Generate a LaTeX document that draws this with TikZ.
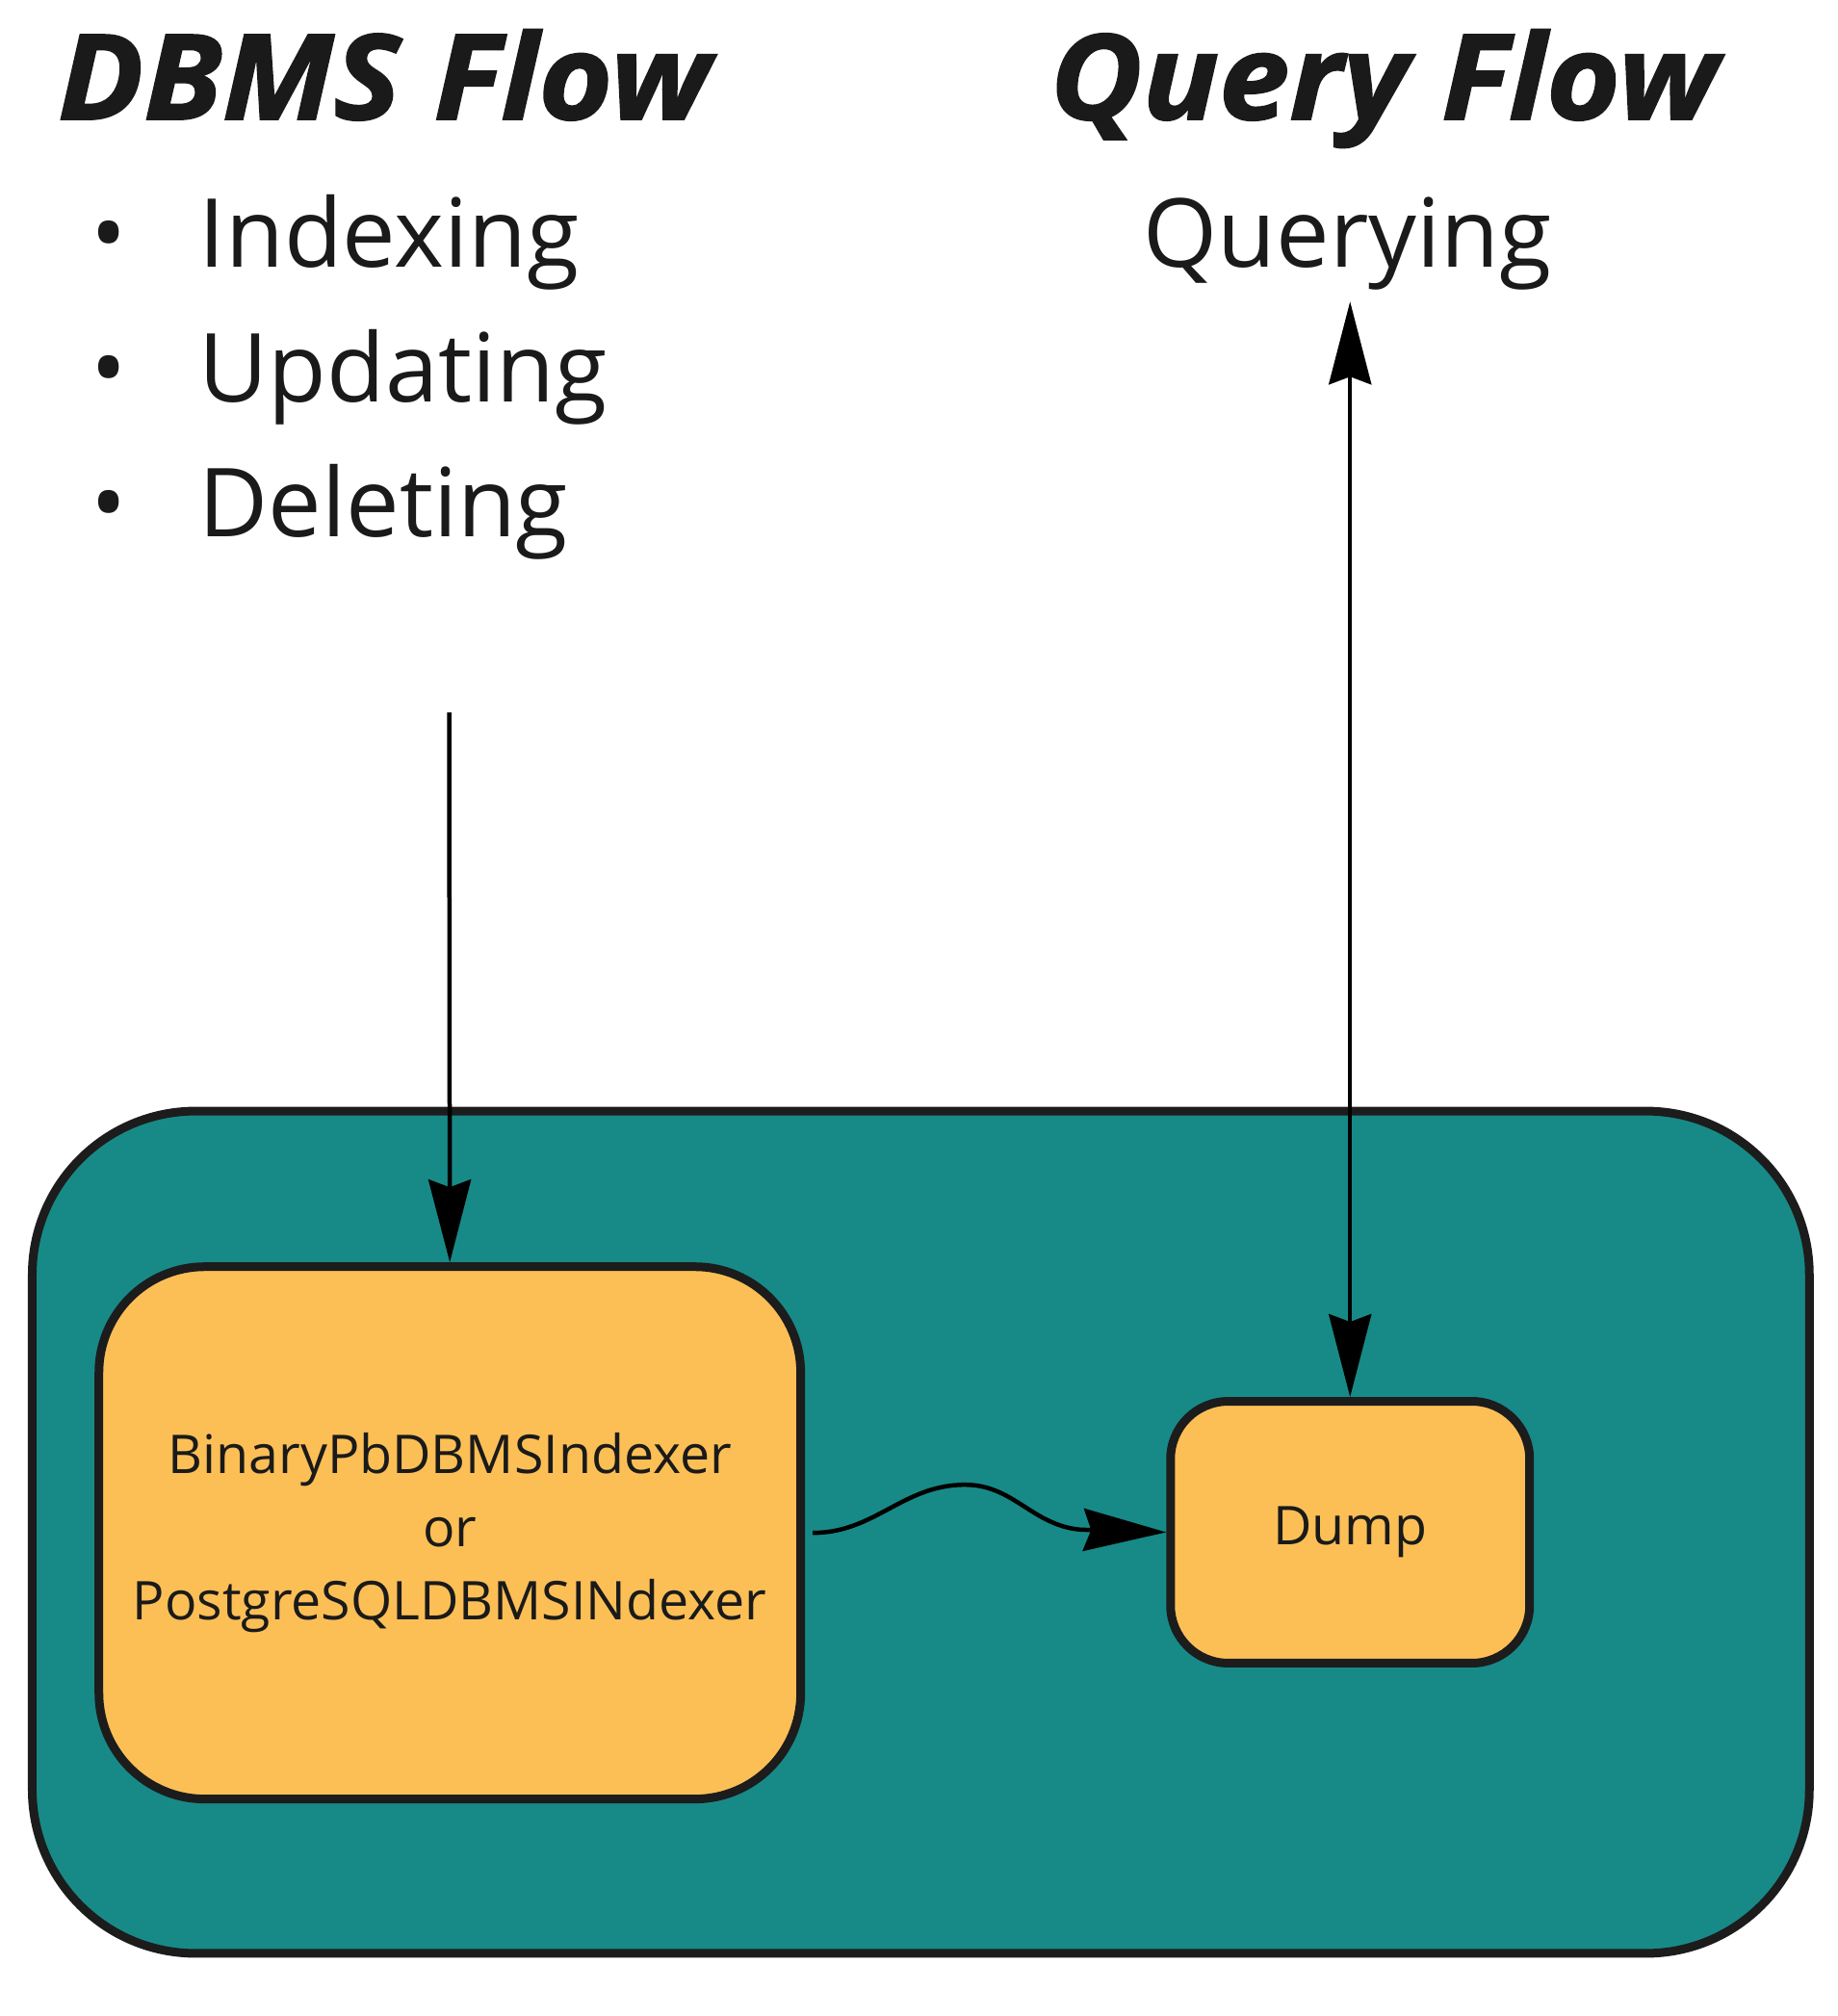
\documentclass[tikz,border=0pt]{standalone}
\usepackage{fontspec}
\setmainfont{Open Sans}
\newfontfamily\titlefont{Open Sans}[BoldItalicFeatures={FakeStretch=1.07,FakeBold=1.5}]
\usetikzlibrary{arrows.meta}
\definecolor{tealbg}{HTML}{178A87}
\definecolor{orangebox}{HTML}{FCBF56}
\definecolor{edgedark}{HTML}{1C1C1C}
\definecolor{inkdark}{HTML}{1A1A1A}
\tikzset{
  titletext/.style={font=\fontsize{123bp}{140bp}\titlefont\bfseries\itshape, text=inkdark, inner sep=0pt},
  listtext/.style={font=\fontsize{99bp}{110bp}\selectfont, text=inkdark, inner sep=0pt},
  boxtext/.style={font=\fontsize{55.5bp}{76bp}\selectfont, text=inkdark},
  outerbox/.style={draw=edgedark, fill=tealbg, line width=9bp, rounded corners=170bp, inner sep=0pt},
  innerbox/.style={draw=edgedark, fill=orangebox, line width=9bp, inner sep=0pt, align=center},
  flow/.style={draw=black, line width=4.5bp, -{Stealth[length=86bp, width=44bp, inset=8bp]}},
  bothflow/.style={draw=black, line width=4.5bp, {Stealth[length=86bp, width=44bp, inset=8bp]}-{Stealth[length=86bp, width=44bp, inset=8bp]}},
}
\begin{document}
\begin{tikzpicture}[x=1.3331bp, y=-1.3331bp]
\useasboundingbox (0,0) rectangle (1432,1571);
% titles
\node[titletext, anchor=base west] (t1) at (45,93) {DBMS Flow};
\node[titletext, anchor=base west] (t2) at (818,93) {Query Flow};
% list
\node[listtext, anchor=base] (b1) at (85,208) {•};
\node[listtext, anchor=base] (b2) at (85,313) {•};
\node[listtext, anchor=base] (b3) at (85,418) {•};
\node[listtext, anchor=base west] (i1) at (155,208) {Indexing};
\node[listtext, anchor=base west] (i2) at (155,313) {Updating};
\node[listtext, anchor=base west] (i3) at (155,418) {Deleting};
\node[listtext, anchor=base] (q) at (1050,208) {Querying};
% boxes
\node[outerbox, minimum width=1846bp, minimum height=875bp] (outer) at (717.5,1194) {};
\node[innerbox, boxtext, rounded corners=110bp, minimum width=729bp, minimum height=553bp] (L) at (350.5,1194.5)
  {BinaryPbDBMSIndexer\\or\\PostgreSQLDBMSINdexer};
\node[innerbox, boxtext, rounded corners=60bp, minimum width=373bp, minimum height=272bp] (D) at (1052,1194) {Dump};
% connectors
\coordinate (src) at (350,555);
\draw[flow] (src) -- (L.north);
\coordinate (qend) at (1052,235);
\draw[bothflow] (D.north) -- (qend);
\coordinate (peak) at (752,1157);
\coordinate (level) at (842,1192);
\draw[flow] ([xshift=8bp]L.east) to[out=0, in=180] (peak) to[out=0, in=175] (level) -- (D.west);
\end{tikzpicture}
\end{document}
